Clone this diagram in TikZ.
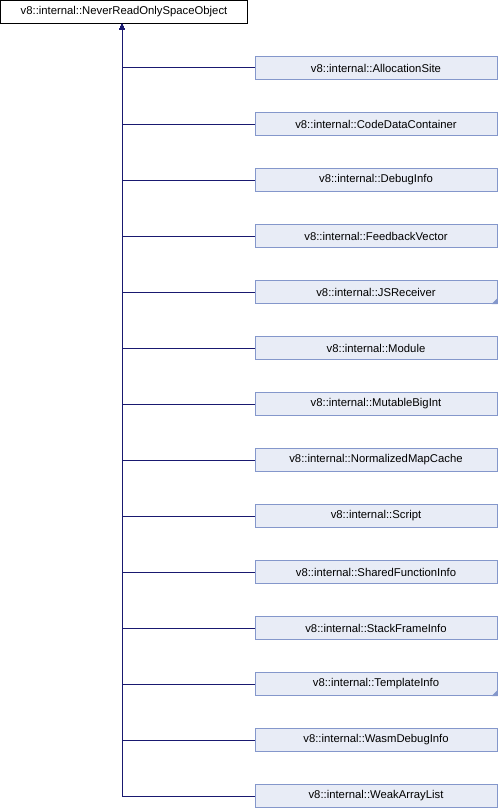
\documentclass[tikz,border=0pt]{standalone}
\usepackage{fontspec}
\setmainfont{Liberation Sans}
\usetikzlibrary{arrows.meta}
\definecolor{edgeblue}{HTML}{191970}
\definecolor{boxborder}{HTML}{8497CB}
\definecolor{boxfill}{HTML}{E8ECF6}

\begin{document}
\begin{tikzpicture}[x=1pt, y=-1pt,
    basebox/.style={draw=black, fill=white, line width=1pt, minimum width=247pt,
      minimum height=23pt, inner sep=0pt, font=\fontsize{11.3}{13}\selectfont},
    derived/.style={draw=boxborder, fill=boxfill, line width=1pt, minimum width=242pt,
      minimum height=23pt, inner sep=0pt, font=\fontsize{11.3}{13}\selectfont},
    inherit/.style={edgeblue, line width=1pt, -{Triangle[length=6pt,width=5pt]}},
    more/.style={fill=boxborder}]
    \useasboundingbox (0,0) rectangle (498,808);
    \node[basebox] (base) at (124,12) {v8::internal::NeverReadOnlySpaceObject};
    \coordinate (stem) at (122,23.5);
    \node[derived] (alloc)      at (376,68)  {v8::internal::AllocationSite};
    \node[derived] (codedata)   at (376,124) {v8::internal::CodeDataContainer};
    \node[derived] (debuginfo)  at (376,180) {v8::internal::DebugInfo};
    \node[derived] (feedback)   at (376,236) {v8::internal::FeedbackVector};
    \node[derived] (jsreceiver) at (376,292) {v8::internal::JSReceiver};
    \node[derived] (module)     at (376,348) {v8::internal::Module};
    \node[derived] (bigint)     at (376,404) {v8::internal::MutableBigInt};
    \node[derived] (mapcache)   at (376,460) {v8::internal::NormalizedMapCache};
    \node[derived] (script)     at (376,516) {v8::internal::Script};
    \node[derived] (sharedinfo) at (376,572) {v8::internal::SharedFunctionInfo};
    \node[derived] (stackframe) at (376,628) {v8::internal::StackFrameInfo};
    \node[derived] (template)   at (376,684) {v8::internal::TemplateInfo};
    \node[derived] (wasmdebug)  at (376,740) {v8::internal::WasmDebugInfo};
    \node[derived] (weaklist)   at (376,796) {v8::internal::WeakArrayList};
    % classes with further children
    \fill[more] (jsreceiver.south east) -- ++(0,-6) -- ++(-6,6) -- cycle;
    \fill[more] (template.south east) -- ++(0,-6) -- ++(-6,6) -- cycle;
    \draw[inherit] (alloc.west) -| (stem);
    \draw[inherit] (codedata.west) -| (stem);
    \draw[inherit] (debuginfo.west) -| (stem);
    \draw[inherit] (feedback.west) -| (stem);
    \draw[inherit] (jsreceiver.west) -| (stem);
    \draw[inherit] (module.west) -| (stem);
    \draw[inherit] (bigint.west) -| (stem);
    \draw[inherit] (mapcache.west) -| (stem);
    \draw[inherit] (script.west) -| (stem);
    \draw[inherit] (sharedinfo.west) -| (stem);
    \draw[inherit] (stackframe.west) -| (stem);
    \draw[inherit] (template.west) -| (stem);
    \draw[inherit] (wasmdebug.west) -| (stem);
    \draw[inherit] (weaklist.west) -| (stem);
\end{tikzpicture}
\end{document}
